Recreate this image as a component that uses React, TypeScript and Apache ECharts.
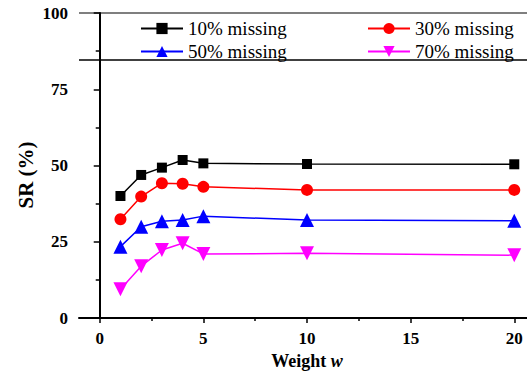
import React, { useEffect, useRef } from "react";
import * as echarts from "echarts";

const weights = [1, 2, 3, 4, 5, 10, 20];
const s10 = [40.0, 46.9, 49.3, 51.8, 50.7, 50.5, 50.4];
const s30 = [32.4, 39.8, 44.2, 44.0, 43.0, 42.0, 42.0];
const s50 = [23.4, 29.9, 31.7, 32.1, 33.4, 32.1, 31.9];
const s70 = [9.4, 17.0, 22.3, 24.5, 21.0, 21.2, 20.6];
const names = ["10% missing", "30% missing", "50% missing", "70% missing"];
const xMajor = [0, 5, 10, 15, 20];
const xMinor = [2.5, 7.5, 12.5, 17.5];

const FONT = "Liberation Serif";

export default function App() {
  const ref = useRef<HTMLDivElement>(null);
  useEffect(() => {
    if (!ref.current) return;
    const chart = echarts.init(ref.current, null, { renderer: "svg" });
    const mk = (name: string, data: number[], color: string, symbol: string, size: number, rotate = 0) => ({
      name,
      type: "line",
      data: weights.map((w, i) => [w, data[i]]),
      symbol,
      symbolSize: size,
      symbolRotate: rotate,
      itemStyle: { color },
      lineStyle: { color, width: 1.5 },
    });
    const legendText = {
      fontFamily: FONT,
      fontSize: 19,
      color: "#000",
      lineHeight: 18,
      rich: { s: { fontFamily: FONT, fontSize: 19, color: "#000", lineHeight: 18 } },
    };
    const legendBase = {
      orient: "vertical",
      top: 19,
      padding: 0,
      itemWidth: 42,
      itemHeight: 14,
      itemGap: 4,
      formatter: (n: string) => "{s|" + n + "}",
      textStyle: legendText,
    };
    chart.setOption({
      animation: false,
      textStyle: { fontFamily: FONT },
      grid: { left: 79, top: 13, width: 456, height: 305, outerBoundsMode: "none", containLabel: false },
      legend: [
        { ...legendBase, data: [names[0], names[2]], left: 140 },
        { ...legendBase, data: [names[1], names[3]], left: 367 },
      ],
      xAxis: [
        {
          type: "value",
          min: -1,
          max: 21,
          splitLine: { show: false },
          axisLine: { show: true, onZero: false, lineStyle: { color: "#000", width: 2 } },
          axisTick: { show: true, customValues: xMajor, length: 5, lineStyle: { color: "#000", width: 1.5 } },
          axisLabel: {
            customValues: xMajor,
            margin: 12,
            fontFamily: FONT,
            fontSize: 17,
            fontWeight: "bold",
            color: "#000",
          },
          name: "Weight {i|w}",
          nameLocation: "middle",
          nameGap: 30,
          nameTextStyle: {
            fontFamily: FONT,
            fontSize: 18,
            fontWeight: "bold",
            color: "#000",
            rich: { i: { fontFamily: FONT, fontSize: 18, fontWeight: "bold", fontStyle: "italic", color: "#000" } },
          },
        },
        {
          type: "value",
          min: -1,
          max: 21,
          position: "bottom",
          splitLine: { show: false },
          axisLine: { show: false, onZero: false },
          axisTick: { show: true, customValues: xMinor, length: 3, lineStyle: { color: "#000", width: 1.5 } },
          axisLabel: { show: false },
        },
      ],
      yAxis: {
        type: "value",
        min: 0,
        max: 100,
        interval: 25,
        splitLine: { show: false },
        axisLine: { show: true, lineStyle: { color: "#000", width: 2 } },
        axisTick: { show: true, length: 6, lineStyle: { color: "#000", width: 1.5 } },
        minorTick: { show: true, splitNumber: 2, length: 4, lineStyle: { color: "#000", width: 1.5 } },
        axisLabel: { margin: 11, fontFamily: FONT, fontSize: 17, fontWeight: "bold", color: "#000" },
      },
      graphic: [
        {
          type: "line",
          shape: { x1: 79, y1: 13, x2: 527, y2: 13 },
          style: { stroke: "#555", lineWidth: 1.5 },
        },
        {
          type: "line",
          shape: { x1: 79, y1: 60, x2: 527, y2: 60 },
          style: { stroke: "#000", lineWidth: 1.5 },
        },
        {
          type: "text",
          x: 26,
          y: 175,
          rotation: Math.PI / 2,
          style: {
            text: "SR (%)",
            fontFamily: FONT,
            fontSize: 21,
            fontWeight: "bold",
            fill: "#000",
            align: "center",
            verticalAlign: "middle",
          },
        },
      ],
      series: [
        mk(names[0], s10, "#000000", "rect", 10),
        mk(names[1], s30, "#ff0000", "circle", 12),
        mk(names[2], s50, "#0000ff", "triangle", 14),
        mk(names[3], s70, "#ff00ff", "triangle", 14, 180),
      ],
    });
    return () => chart.dispose();
  }, []);
  return <div ref={ref} style={{ position: "absolute", left: 0, top: 0, width: 527, height: 371 }} />;
}
